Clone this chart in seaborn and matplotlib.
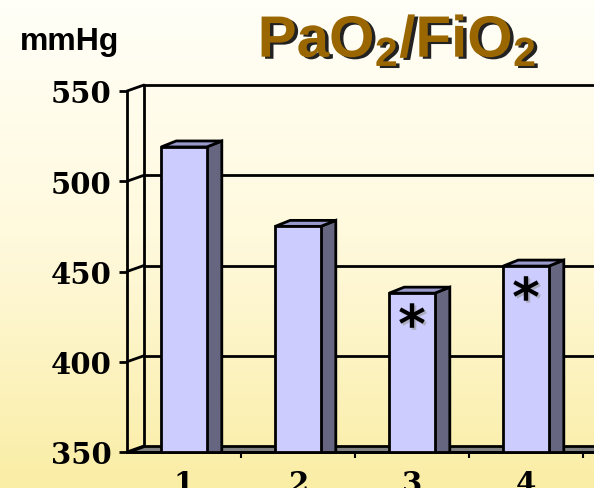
import matplotlib

matplotlib.use('Agg')
import matplotlib.pyplot as plt
import matplotlib.patheffects as pe
from matplotlib.patches import Polygon
from matplotlib.colors import LinearSegmentedColormap
import numpy as np
import seaborn as sns

# datos
categories = ['1', '2', '3', '4']
values = [519, 475, 438, 453]
significant = [False, False, True, True]
y_ticks = [350, 400, 450, 500, 550]

sns.set_style('white')
plt.rcParams['text.color'] = 'black'
plt.rcParams['mathtext.fontset'] = 'custom'
plt.rcParams['mathtext.bf'] = 'Liberation Sans:bold'
plt.rcParams['mathtext.rm'] = 'Liberation Sans:bold'

W, H = 594, 489
fig = plt.figure(figsize=(W / 100, H / 100), dpi=100)

# fondo degradado
bg = fig.add_axes([0, 0, 1, 1], zorder=-10)
grad = np.linspace(0, 1, 256).reshape(-1, 1)
cmap = LinearSegmentedColormap.from_list('bg', ['#FFFFF8', '#FFF9DC', '#FAEDA5'])
bg.imshow(grad, aspect='auto', cmap=cmap, extent=[0, 1, 0, 1], origin='upper')
bg.axis('off')

# ejes principales (pixeles medidos)
x_left, x_right = 127, 594
y_top, y_bot = 92, 453
ax = fig.add_axes([x_left / W, (H - y_bot) / H, (x_right - x_left) / W, (y_bot - y_top) / H])
ax.patch.set_visible(False)

sns.barplot(x=categories, y=values, width=0.4, color='#CCCCFF',
            edgecolor='black', linewidth=2, saturation=1, ax=ax, zorder=3)

ax.set_xlim(-0.5, -0.5 + (x_right - x_left) / 114)
ax.set_ylim(350, 550)
ax.set_xlabel('')
ax.set_ylabel('')

# escala pixel -> datos
px_x = 1 / 114
px_y = 200 / (y_bot - y_top)
bdx, bdy = 15 * px_x, 6 * px_y
wdx, wdy = 17 * px_x, 6 * px_y
xmin, xmax = ax.get_xlim()

# piso
floor = Polygon([(xmin, 350), (xmax + 1, 350), (xmax + 1, 350 + wdy), (xmin + wdx, 350 + wdy)],
                closed=True, facecolor='#808080', edgecolor='black', lw=2, zorder=1, clip_on=False)
ax.add_patch(floor)

# pared del fondo y lineas de grilla
ax.plot([xmin + wdx, xmin + wdx], [350 + wdy, 550 + wdy], color='black', lw=2, zorder=0.5, clip_on=False)
for v in y_ticks:
    ax.plot([xmin, xmin + wdx], [v, v + wdy], color='black', lw=2, zorder=0.5, clip_on=False)
    if v > 350:
        ax.plot([xmin + wdx, xmax + 1], [v + wdy, v + wdy], color='black', lw=2, zorder=0.5, clip_on=False)

# caras laterales y superiores de las barras
for bar, sig in zip(ax.patches, significant):
    x0 = bar.get_x()
    x1 = x0 + bar.get_width()
    top = bar.get_height()
    side = Polygon([(x1, 340), (x1 + bdx, 340 + bdy), (x1 + bdx, top + bdy), (x1, top)],
                   closed=True, facecolor='#666680', edgecolor='black', lw=2, zorder=2.8)
    cap = Polygon([(x0, top), (x0 + bdx, top + bdy), (x1 + bdx, top + bdy), (x1, top)],
                  closed=True, facecolor='#9999CC', edgecolor='black', lw=2, zorder=2.8)
    ax.add_patch(side)
    ax.add_patch(cap)
    if sig:
        ax.text(x0 + bar.get_width() / 2, top - 19, '*', ha='center', va='center',
                fontsize=38, fontweight='bold', family='DejaVu Sans', color='black', zorder=5,
                path_effects=[pe.withSimplePatchShadow(offset=(1.5, -1.5), shadow_rgbFace='#999999', alpha=0.6)])

# ejes
for s in ['top', 'right']:
    ax.spines[s].set_visible(False)
ax.spines['left'].set_color('black')
ax.spines['left'].set_linewidth(2)
ax.spines['bottom'].set_color('black')
ax.spines['bottom'].set_linewidth(2)
ax.spines['bottom'].set_zorder(4)
ax.spines['left'].set_zorder(4)

ax.set_yticks(y_ticks)
ax.set_yticklabels([str(v) for v in y_ticks])
ax.tick_params(axis='y', direction='out', length=6, width=2, pad=5, labelsize=21,
               colors='black', left=True)
ax.set_xticks(range(len(categories)))
ax.set_xticklabels(categories)
ax.set_xticks([i + 0.5 for i in range(len(categories))], minor=True)
ax.tick_params(axis='x', which='major', length=0, pad=12, labelsize=21, colors='black')
ax.tick_params(axis='x', which='minor', direction='out', length=4, width=1.5, bottom=True, colors='black')
for lab in ax.get_yticklabels() + ax.get_xticklabels():
    lab.set_family('DejaVu Serif')
    lab.set_fontweight('bold')

# textos
fig.text(20 / W, 1 - 50 / H, 'mmHg', fontsize=23, fontweight='bold', family='Liberation Sans',
         color='black', ha='left', va='baseline')
fig.text(397 / W, 1 - 58 / H, r'$\mathbf{PaO_2/FiO_2}$', fontsize=42, color='#996600',
         ha='center', va='baseline',
         path_effects=[pe.withSimplePatchShadow(offset=(2.5, -1.5), shadow_rgbFace='#222222', alpha=1)])

fig.savefig('out.png', dpi=100)
